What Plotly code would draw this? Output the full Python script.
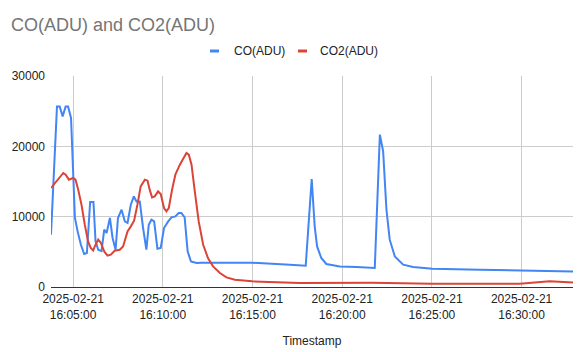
import plotly.graph_objects as go

DATE = "2025-02-21 "

co_names = "CO(ADU)"
co2_names = "CO2(ADU)"

co_times = ["16:03:46", "16:04:06", "16:04:15", "16:04:25", "16:04:35", "16:04:43", "16:04:53",
            "16:05:06", "16:05:15", "16:05:26", "16:05:37", "16:05:46", "16:05:57", "16:06:08",
            "16:06:15", "16:06:24", "16:06:35", "16:06:44", "16:06:52", "16:07:03", "16:07:12",
            "16:07:22", "16:07:30", "16:07:42", "16:07:53", "16:08:02", "16:08:13", "16:08:23",
            "16:08:32", "16:08:43", "16:08:54", "16:09:05", "16:09:13", "16:09:22", "16:09:31",
            "16:09:42", "16:09:53", "16:10:04", "16:10:18", "16:10:29", "16:10:42", "16:10:53",
            "16:11:02", "16:11:13", "16:11:23", "16:11:34", "16:11:53", "16:12:09", "16:14:01",
            "16:14:58", "16:17:05", "16:17:58", "16:18:18", "16:18:28", "16:18:36", "16:18:50",
            "16:19:07", "16:19:52", "16:20:48", "16:21:49", "16:22:06", "16:22:17", "16:22:28",
            "16:22:39", "16:22:56", "16:23:24", "16:23:57", "16:25:02", "16:27:40", "16:29:58",
            "16:31:12", "16:32:52"]
co_values = [7440, 25680, 25680, 24260, 25680, 25680, 24030,
             9810, 7910, 6010, 4690, 4830, 12090, 12090,
             6490, 5300, 5100, 8150, 7680, 9810, 6970,
             5300, 9810, 10990, 9330, 9100, 11700, 12880,
             12170, 12170, 8390, 5300, 8860, 9570, 9330,
             5450, 5550, 8390, 9330, 9900, 10040, 10520,
             10520, 9900, 5060, 3640, 3410, 3450, 3450,
             3450, 3170, 3030, 15360, 8620, 5770, 4120,
             3270, 2930, 2840, 2700, 21660, 19280, 10990,
             6730, 4350, 3170, 2840, 2600, 2460, 2360,
             2220, 2220]

co2_times = ["16:03:46", "16:03:59", "16:04:16", "16:04:27", "16:04:35", "16:04:46", "16:05:00",
             "16:05:08", "16:05:17", "16:05:28", "16:05:39", "16:05:50", "16:05:59", "16:06:07",
             "16:06:15", "16:06:24", "16:06:33", "16:06:44", "16:06:55", "16:07:06", "16:07:19",
             "16:07:36", "16:07:47", "16:08:02", "16:08:13", "16:08:24", "16:08:35", "16:08:46",
             "16:09:00", "16:09:09", "16:09:16", "16:09:24", "16:09:33", "16:09:44", "16:09:53",
             "16:10:04", "16:10:12", "16:10:20", "16:10:31", "16:10:42", "16:10:57", "16:11:08",
             "16:11:19", "16:11:27", "16:11:36", "16:11:47", "16:12:00", "16:12:15", "16:12:31",
             "16:12:48", "16:13:11", "16:13:33", "16:14:01", "16:14:59", "16:17:38", "16:21:40",
             "16:25:00", "16:29:54", "16:30:37", "16:31:34", "16:32:52"]
co2_values = [14080, 14790, 15730, 16210, 15970, 15260, 15500,
              15260, 13840, 11700, 8860, 6490, 5550, 5200,
              6010, 6730, 6260, 5060, 4450, 4590, 5160,
              5300, 5770, 7910, 8620, 9430, 11700, 14310,
              15260, 15120, 13840, 12740, 12880, 13590, 13220,
              11230, 10750, 11230, 13840, 15970, 17390, 18200,
              19050, 18810, 17390, 13590, 9330, 6010, 4120,
              2930, 1990, 1370, 1040, 800, 570, 600,
              450, 470, 570, 800, 650]

y_ticks = [0, 10000, 20000, 30000]
x_ticks = ["16:05:00", "16:10:00", "16:15:00", "16:20:00", "16:25:00", "16:30:00"]

BLUE = "#4285F4"
RED = "#DB4437"
FONT = "Arial, Liberation Sans, sans-serif"

fig = go.Figure()
fig.add_trace(go.Scatter(x=[DATE + t for t in co_times], y=co_values, mode="lines",
                         name=co_names, line=dict(color=BLUE, width=2)))
fig.add_trace(go.Scatter(x=[DATE + t for t in co2_times], y=co2_values, mode="lines",
                         name=co2_names, line=dict(color=RED, width=2)))

W, H = 584, 352
L, R, T, B = 51, 11, 76, 65
pw, ph = W - L - R, H - T - B


def px(xp):
    return (xp - L) / pw


def py(yp):
    return (H - B - yp) / ph


# manual legend (short line keys as in the reference)
legend_items = [(co_names, BLUE, 210, 219, 232), (co2_names, RED, 298, 307, 318)]
for name, col, x0, x1, xt in legend_items:
    fig.add_shape(type="line", xref="paper", yref="paper", x0=px(x0), x1=px(x1),
                  y0=py(51), y1=py(51), line=dict(color=col, width=3))
    fig.add_annotation(text=name, xref="paper", yref="paper", x=px(xt), y=py(51),
                       xanchor="left", yanchor="middle", showarrow=False,
                       font=dict(family=FONT, size=12, color="#222222"))

fig.update_layout(
    width=W, height=H,
    margin=dict(l=L, r=R, t=T, b=B),
    paper_bgcolor="white", plot_bgcolor="white",
    showlegend=False,
    font=dict(family=FONT, size=12, color="#222222"),
    title=dict(text="CO(ADU) and CO2(ADU)", x=11 / W, xref="container", xanchor="left",
               y=1 - 25 / H, yref="container", yanchor="middle",
               font=dict(family=FONT, size=18, color="#757575")),
    xaxis=dict(
        type="date",
        range=[DATE + co_times[0], DATE + co_times[-1]],
        tickvals=[DATE + t for t in x_ticks],
        ticktext=["2025-02-21<br>" + t for t in x_ticks],
        showgrid=True, gridcolor="#cccccc", gridwidth=1,
        showline=False, zeroline=False, ticks="",
        ticklabelstandoff=3,
        tickfont=dict(family=FONT, size=12, color="#222222"),
        title=dict(text="Timestamp", standoff=16,
                   font=dict(family=FONT, size=12, color="#222222")),
        automargin=False,
    ),
    yaxis=dict(
        range=[0, 30000],
        tickvals=y_ticks, ticktext=[str(v) for v in y_ticks],
        showgrid=True, gridcolor="#cccccc", gridwidth=1,
        zeroline=True, zerolinecolor="#333333", zerolinewidth=1,
        showline=False, ticks="",
        ticklabelstandoff=5,
        tickfont=dict(family=FONT, size=12, color="#222222"),
        automargin=False,
    ),
)

fig.write_html("out.html")
